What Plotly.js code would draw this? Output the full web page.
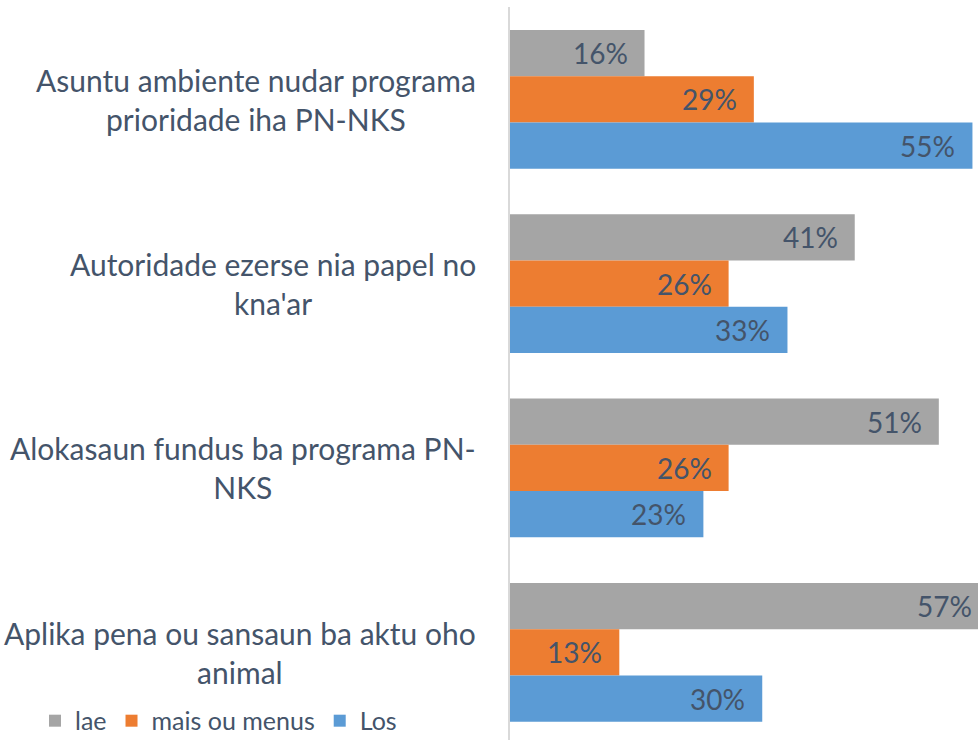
<!DOCTYPE html>
<html>
<head>
<meta charset="utf-8">
<script src="https://cdn.plot.ly/plotly-3.0.1.min.js"></script>
<style>
html, body { margin: 0; padding: 0; overflow: hidden; background: #fff; }
#chart { width: 978px; height: 740px; }
</style>
</head>
<body>
<div id="chart"></div>
<script>
const categories = [
  "Asuntu ambiente nudar programa<br>prioridade iha PN-NKS",
  "Autoridade ezerse nia papel no<br>kna'ar",
  "Alokasaun fundus ba programa PN-<br>NKS",
  "Aplika pena ou sansaun ba aktu oho<br>animal"
];
const seriesNames = ["lae", "mais ou menus", "Los"];
const laeValues = [16, 41, 51, 57];
const maisValues = [29, 26, 26, 13];
const losValues = [55, 33, 23, 30];
const seriesColors = ["#A5A5A5", "#ED7D31", "#5B9BD5"];

const textColor = "#44546A";
const fontFam = "Lato, 'Open Sans', sans-serif";

const W = 978, H = 740;
const M = { l: 510, r: 0, t: 7, b: 0 };
const xRange = [0, 55.66];
const yRange = [3.476, -0.501];
const bargap = 0.247;
const plotH = H - M.t - M.b;
const plotW = W - M.l - M.r;
const bandPx = plotH / Math.abs(yRange[0] - yRange[1]);
const barPx = bandPx * (1 - bargap) / seriesNames.length;
const pxPerUnit = plotW / (xRange[1] - xRange[0]);

const allValues = [laeValues, maisValues, losValues];
const traces = allValues.map((vals, i) => ({
  type: "bar",
  orientation: "h",
  name: seriesNames[i],
  y: categories,
  x: vals,
  marker: { color: seriesColors[i] },
  hoverinfo: "skip"
}));

const annotations = categories.map(c => ({
  xref: "paper", yref: "y",
  x: 0, y: c,
  xanchor: "right", yanchor: "middle",
  xshift: -32,
  align: "center",
  showarrow: false,
  text: c,
  font: { family: fontFam, size: 30, color: textColor }
}));

allValues.forEach((vals, i) => {
  const mid = (seriesNames.length - 1) / 2;
  vals.forEach((v, j) => {
    const xc = Math.min(v, xRange[1]);
    annotations.push({
      xref: "x", yref: "y",
      x: xc, y: categories[j],
      xanchor: "right", yanchor: "middle",
      xshift: -15 + (v - xc) * pxPerUnit,
      yshift: (mid - i) * barPx,
      showarrow: false,
      text: v + "%",
      font: { family: fontFam, size: 28, color: textColor }
    });
  });
});

const layout = {
  width: W, height: H,
  margin: { l: M.l, r: M.r, t: M.t, b: M.b, pad: 0, autoexpand: false },
  paper_bgcolor: "#fff", plot_bgcolor: "#fff",
  barmode: "group",
  bargap: bargap,
  bargroupgap: 0,
  showlegend: true,
  legend: {
    orientation: "h",
    x: -1.015, xanchor: "left",
    y: 0.026, yanchor: "middle",
    font: { family: fontFam, size: 25, color: textColor },
    bgcolor: "rgba(0,0,0,0)"
  },
  xaxis: {
    range: xRange,
    showgrid: false, zeroline: false, showticklabels: false, showline: false, ticks: ""
  },
  yaxis: {
    type: "category",
    range: yRange,
    showticklabels: false, ticks: "", showgrid: false, zeroline: false,
    showline: true, linecolor: "#D9D9D9", linewidth: 2
  },
  annotations: annotations
};

Plotly.newPlot("chart", traces, layout, { staticPlot: true, displayModeBar: false });
</script>
</body>
</html>
